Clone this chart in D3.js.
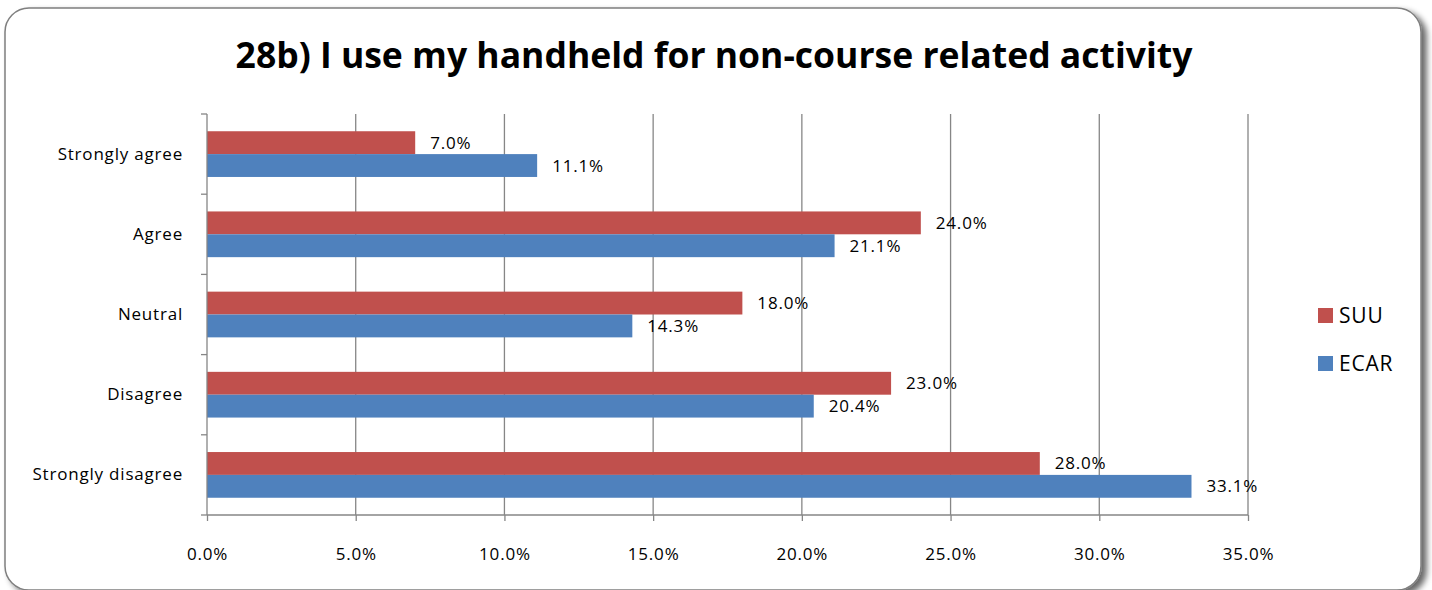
<!DOCTYPE html>
<html>
<head>
<meta charset="utf-8">
<script src="https://cdn.jsdelivr.net/npm/d3@7"></script>
<style>
  html, body { margin: 0; padding: 0; background: #fff; }
  svg { display: block; }
  text { font-family: "Open Sans", sans-serif; }
</style>
</head>
<body>
<svg id="chart" width="1432" height="590"></svg>
<script>
// Survey responses, top to bottom
const categories = ["Strongly agree", "Agree", "Neutral", "Disagree", "Strongly disagree"];
const seriesNames = ["SUU", "ECAR"];
const suuValues = [7.0, 24.0, 18.0, 23.0, 28.0];
const ecarValues = [11.1, 21.1, 14.3, 20.4, 33.1];
const xTicks = [0, 5, 10, 15, 20, 25, 30, 35];
const colors = { SUU: "#C0504D", ECAR: "#4F81BD" };

const FONT = "'Open Sans', sans-serif";
const LABEL_SIZE = 17, LABEL_SPACING = "0.8px";
const svg = d3.select("#chart");

// Chart frame with soft drop shadow
const defs = svg.append("defs");
const f = defs.append("filter").attr("id", "shadow").attr("x", "-5%").attr("y", "-5%").attr("width", "110%").attr("height", "115%");
f.append("feGaussianBlur").attr("in", "SourceAlpha").attr("stdDeviation", 3);
f.append("feOffset").attr("dx", 5).attr("dy", 4).attr("result", "ob");
f.append("feComponentTransfer").append("feFuncA").attr("type", "linear").attr("slope", 0.6);
const m = f.append("feMerge");
m.append("feMergeNode");
m.append("feMergeNode").attr("in", "SourceGraphic");

svg.append("rect")
  .attr("x", 5).attr("y", 8).attr("width", 1416).attr("height", 582)
  .attr("rx", 24).attr("ry", 24)
  .attr("fill", "#fff").attr("stroke", "#7f7f7f").attr("stroke-width", 1.5)
  .attr("filter", "url(#shadow)");

// Title
svg.append("text")
  .attr("x", 714).attr("y", 68)
  .attr("text-anchor", "middle")
  .attr("font-size", 35.5).attr("font-weight", "bold").attr("fill", "#000")
  .text("28b) I use my handheld for non-course related activity");

const plot = { left: 207, right: 1248, top: 114, bottom: 515 };

const x = d3.scaleLinear().domain([0, 35]).range([plot.left, plot.right]);
const y = d3.scaleBand().domain(categories).range([plot.top, plot.bottom]).paddingInner(0.43).paddingOuter(0.215);
const ySub = d3.scaleBand().domain(seriesNames).range([0, y.bandwidth()]);

const g = svg.append("g");

// Vertical gridlines
g.selectAll("line.grid").data(xTicks.slice(1)).join("line")
  .attr("class", "grid")
  .attr("x1", d => x(d)).attr("x2", d => x(d))
  .attr("y1", plot.top).attr("y2", plot.bottom)
  .attr("stroke", "#868686").attr("stroke-width", 1.3);

// Bars
const rows = categories.map((c, i) => ({ c, vals: [
  { s: "SUU", v: suuValues[i] }, { s: "ECAR", v: ecarValues[i] }
]}));

const grp = g.selectAll("g.cat").data(rows).join("g")
  .attr("transform", d => `translate(0,${y(d.c)})`);

grp.selectAll("rect").data(d => d.vals).join("rect")
  .attr("x", x(0))
  .attr("y", d => ySub(d.s))
  .attr("width", d => x(d.v) - x(0))
  .attr("height", ySub.bandwidth())
  .attr("fill", d => colors[d.s]);

grp.selectAll("text").data(d => d.vals).join("text")
  .attr("x", d => x(d.v) + 15)
  .attr("y", d => ySub(d.s) + ySub.bandwidth() / 2 + 6)
  .attr("font-size", LABEL_SIZE).attr("letter-spacing", LABEL_SPACING).attr("fill", "#000")
  .text(d => d.v.toFixed(1) + "%");

// X axis
const xAxis = d3.axisBottom(x).tickValues(xTicks).tickSize(6).tickPadding(27)
  .tickFormat(d => d.toFixed(1) + "%");
const xa = svg.append("g").attr("transform", `translate(0,${plot.bottom})`).call(xAxis);
xa.select(".domain").attr("stroke", "#868686").attr("stroke-width", 1.3).attr("d", `M${plot.left},0H${plot.right}`);
xa.selectAll(".tick line").attr("stroke", "#868686").attr("stroke-width", 1.3);
xa.selectAll(".tick text").attr("font-size", LABEL_SIZE).attr("letter-spacing", LABEL_SPACING)
  .attr("fill", "#000").attr("font-family", FONT);

// Y axis
const yAxis = d3.axisLeft(y).tickSize(0).tickPadding(24);
const ya = svg.append("g").attr("transform", `translate(${plot.left},0)`).call(yAxis);
ya.select(".domain").attr("stroke", "#868686").attr("stroke-width", 1.3).attr("d", `M0,${plot.top}V${plot.bottom}`);
ya.selectAll(".tick text").attr("font-size", LABEL_SIZE).attr("letter-spacing", LABEL_SPACING)
  .attr("fill", "#000").attr("font-family", FONT);

// Category boundary ticks
const bounds = d3.range(categories.length + 1).map(i => plot.top + i * (plot.bottom - plot.top) / categories.length);
svg.selectAll("line.ytick").data(bounds).join("line")
  .attr("x1", plot.left - 6).attr("x2", plot.left)
  .attr("y1", d => d).attr("y2", d => d)
  .attr("stroke", "#868686").attr("stroke-width", 1.3);

// Legend
const legend = svg.append("g").attr("transform", "translate(1318,308)");
seriesNames.forEach((s, i) => {
  const lg = legend.append("g").attr("transform", `translate(0,${i * 48})`);
  lg.append("rect").attr("width", 15).attr("height", 15).attr("fill", colors[s]);
  lg.append("text").attr("x", 21).attr("y", 15).attr("font-size", 21).attr("letter-spacing", "0.8px")
    .attr("fill", "#000").text(s);
});
</script>
</body>
</html>
